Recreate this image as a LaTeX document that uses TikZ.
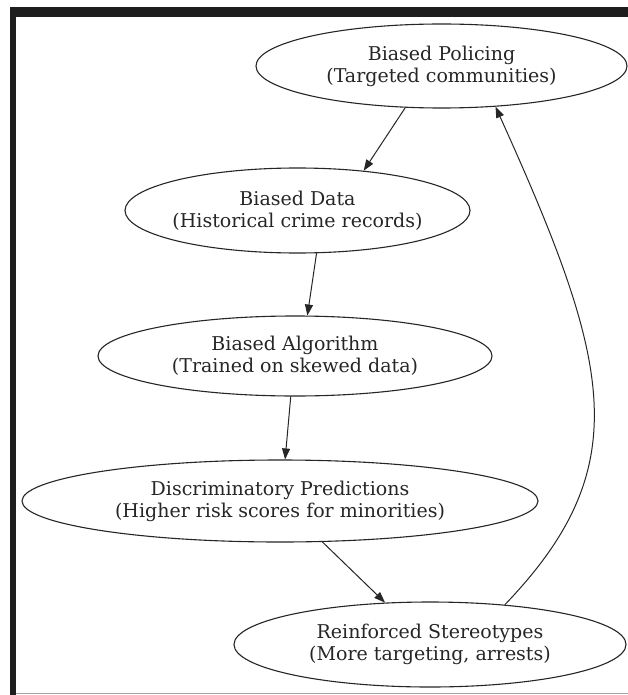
\documentclass[tikz,border=0pt]{standalone}
\usepackage{fontspec}
\setmainfont{DejaVu Serif}
\usetikzlibrary{shapes.geometric,arrows.meta}
\definecolor{ink}{HTML}{262626}
\definecolor{frame}{HTML}{1E1E1E}
\tikzset{
  stage/.style={ellipse, draw=ink, line width=1.1pt, inner xsep=-30pt, inner ysep=-8pt, align=center,
    text=ink, font=\fontsize{19}{22}\selectfont},
  flow/.style={draw=ink, line width=1.0pt, -{Triangle[length=11pt,width=8pt]}}
}
\begin{document}
\begin{tikzpicture}[x=1pt,y=-1pt]
\useasboundingbox (0,0) rectangle (628,695);
\fill[white] (0,0) rectangle (628,695);
\fill[frame] (10,7) rectangle (628,17);
\fill[frame] (10,7) rectangle (16,695);
\draw[gray!70, line width=1pt] (16,693) -- (628,693);

\node[stage, minimum width=371pt, minimum height=84pt] (P) at (441.5,66) {Biased Policing\\(Targeted communities)};
\node[stage, minimum width=345pt, minimum height=85pt] (D) at (297.5,210.5) {Biased Data\\(Historical crime records)};
\node[stage, minimum width=394pt, minimum height=80pt] (A) at (295,356) {Biased Algorithm\\(Trained on skewed data)};
\node[stage, minimum width=516pt, minimum height=82pt] (X) at (280,501) {Discriminatory Predictions\\(Higher risk scores for minorities)};
\node[stage, minimum width=392pt, minimum height=85pt] (R) at (430,644.5) {Reinforced Stereotypes\\(More targeting, arrests)};

\draw[flow] (P.229.5) -- (D.31.4);
\draw[flow] (D.294.9) -- (A.73.3);
\draw[flow] (A.264.3) -- (X.83);
\draw[flow] (X.316.8) -- (R.137.4);
\draw[flow] (R.28.7) .. controls (637.5,466.5) and (611.5,363.5) .. (P.323.1);
\end{tikzpicture}
\end{document}
